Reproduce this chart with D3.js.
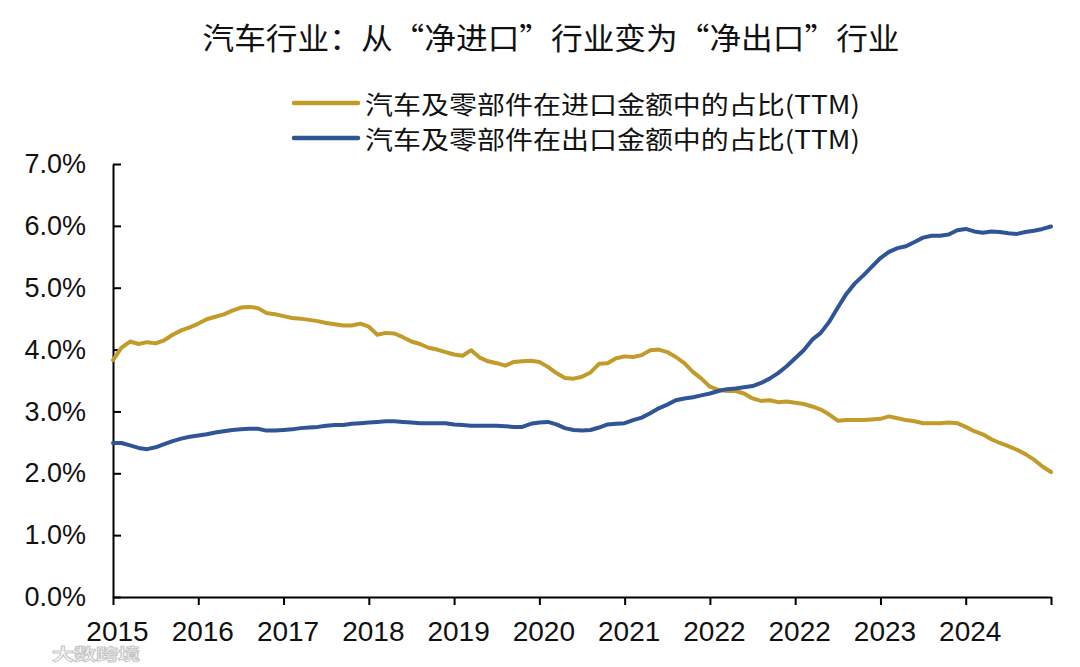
<!DOCTYPE html>
<html>
<head>
<meta charset="utf-8">
<script src="https://cdn.jsdelivr.net/npm/d3@7"></script>
<style>
  html, body { margin: 0; padding: 0; background: #fff; }
  svg { display: block; }
</style>
</head>
<body>
<svg id="chart" width="1080" height="667"></svg>
<script>
const titleText = "汽车行业：从“净进口”行业变为“净出口”行业";
const seriesNames = ["汽车及零部件在进口金额中的占比(TTM)", "汽车及零部件在出口金额中的占比(TTM)"];
const tickLabels = ["2015","2016","2017","2018","2019","2020","2021","2022","2022","2023","2024",""];
const yTicks = [0, 0.01, 0.02, 0.03, 0.04, 0.05, 0.06, 0.07];

// share of autos & parts in imports (TTM), %
const importShare = [
  3.83,4.03,4.13,4.09,4.12,4.10,4.15,4.24,4.31,4.36,
  4.42,4.49,4.53,4.57,4.63,4.68,4.69,4.67,4.59,4.57,
  4.54,4.51,4.50,4.48,4.46,4.43,4.41,4.39,4.39,4.42,
  4.37,4.24,4.27,4.26,4.20,4.13,4.09,4.03,4.00,3.96,
  3.92,3.90,3.99,3.87,3.81,3.78,3.74,3.80,3.81,3.82,
  3.80,3.72,3.62,3.54,3.53,3.56,3.63,3.77,3.78,3.86,
  3.89,3.88,3.91,3.99,4.00,3.96,3.88,3.78,3.64,3.53,
  3.40,3.35,3.33,3.33,3.29,3.21,3.17,3.18,3.15,3.16,
  3.14,3.12,3.08,3.03,2.95,2.85,2.86,2.86,2.86,2.87,
  2.88,2.92,2.89,2.86,2.84,2.81,2.81,2.81,2.82,2.81,
  2.75,2.68,2.63,2.55,2.49,2.44,2.38,2.31,2.22,2.11,
  2.02
];
// share of autos & parts in exports (TTM), %
const exportShare = [
  2.49,2.49,2.45,2.41,2.39,2.42,2.47,2.52,2.56,2.59,
  2.61,2.63,2.66,2.68,2.70,2.71,2.72,2.72,2.69,2.69,
  2.70,2.71,2.73,2.74,2.75,2.77,2.78,2.78,2.80,2.81,
  2.82,2.83,2.84,2.84,2.83,2.82,2.81,2.81,2.81,2.81,
  2.79,2.78,2.77,2.77,2.77,2.77,2.76,2.75,2.75,2.80,
  2.82,2.83,2.79,2.73,2.70,2.69,2.70,2.74,2.79,2.80,
  2.81,2.86,2.90,2.97,3.05,3.11,3.18,3.21,3.23,3.26,
  3.29,3.33,3.36,3.37,3.39,3.41,3.46,3.53,3.62,3.73,
  3.86,3.99,4.16,4.27,4.45,4.68,4.90,5.07,5.20,5.34,
  5.48,5.58,5.64,5.67,5.74,5.81,5.84,5.84,5.86,5.93,
  5.95,5.91,5.89,5.91,5.90,5.88,5.87,5.90,5.92,5.95,
  5.99
];

const colors = ["#C29B2A", "#2F5597"];
const N = importShare.length;

const svg = d3.select("#chart");
const plotLeft = 113, plotRight = 1051, plotTop = 164, plotBottom = 597;

const x = d3.scaleLinear().domain([0, N - 1]).range([plotLeft, plotRight]);
const y = d3.scaleLinear().domain([0, 0.07]).range([plotBottom, plotTop]);

// title
svg.append("text")
  .attr("x", 551).attr("y", 36)
  .attr("text-anchor", "middle").attr("dominant-baseline", "central")
  .attr("font-family", "'Noto Sans CJK SC', sans-serif")
  .attr("font-size", 30)
  .attr("textLength", 697).attr("lengthAdjust", "spacingAndGlyphs")
  .attr("fill", "#111")
  .text(titleText);

// legend
const legendY = [103, 138];
seriesNames.forEach((name, i) => {
  svg.append("line")
    .attr("x1", 294).attr("x2", 358)
    .attr("y1", legendY[i]).attr("y2", legendY[i])
    .attr("stroke", colors[i]).attr("stroke-width", 4.5)
    .attr("stroke-linecap", "round");
  svg.append("text")
    .attr("x", 365).attr("y", legendY[i])
    .attr("dominant-baseline", "central")
    .attr("font-family", "'Noto Sans CJK SC', sans-serif")
    .attr("font-size", 25)
    .attr("textLength", 495).attr("lengthAdjust", "spacingAndGlyphs")
    .attr("fill", "#111")
    .text(name);
});

// y axis
const yAxis = d3.axisLeft(y)
  .tickValues(yTicks)
  .tickFormat(d3.format(".1%"))
  .tickSizeInner(-8).tickSizeOuter(0).tickPadding(27);
const gy = svg.append("g").attr("transform", `translate(${plotLeft},0)`).call(yAxis);
gy.select(".domain").attr("stroke", "#000").attr("stroke-width", 2);
gy.selectAll(".tick line").attr("stroke", "#000").attr("stroke-width", 2);
gy.selectAll(".tick text")
  .attr("font-family", "'Liberation Sans', Arial, sans-serif")
  .attr("font-size", 27).attr("fill", "#111");

// x axis
const xTickVals = tickLabels.map((d, i) => i * (N - 1) / (tickLabels.length - 1));
const xAxis = d3.axisBottom(x)
  .tickValues(xTickVals)
  .tickFormat((d, i) => tickLabels[i])
  .tickSizeInner(8).tickSizeOuter(0).tickPadding(16);
const gx = svg.append("g").attr("transform", `translate(0,${plotBottom})`).call(xAxis);
gx.select(".domain").attr("stroke", "#000").attr("stroke-width", 2);
gx.selectAll(".tick line").attr("stroke", "#000").attr("stroke-width", 2);
gx.selectAll(".tick text")
  .attr("font-family", "'Liberation Sans', Arial, sans-serif")
  .attr("font-size", 28).attr("fill", "#111")
  .attr("dx", 4);

// lines
const line = d3.line().x((d, i) => x(i)).y(d => y(d / 100)).curve(d3.curveLinear);
[importShare, exportShare].forEach((s, i) => {
  svg.append("path")
    .datum(s)
    .attr("fill", "none")
    .attr("stroke", colors[i])
    .attr("stroke-width", 4)
    .attr("stroke-linejoin", "round")
    .attr("stroke-linecap", "round")
    .attr("d", line);
});

// watermark
svg.append("text")
  .attr("x", 52).attr("y", 660)
  .attr("font-family", "'Noto Sans CJK SC', sans-serif")
  .attr("font-size", 16).attr("font-weight", "bold")
  .attr("textLength", 88).attr("lengthAdjust", "spacingAndGlyphs")
  .attr("fill", "#fff").attr("stroke", "#c8c8c8").attr("stroke-width", 1)
  .text("大数跨境");
</script>
</body>
</html>
